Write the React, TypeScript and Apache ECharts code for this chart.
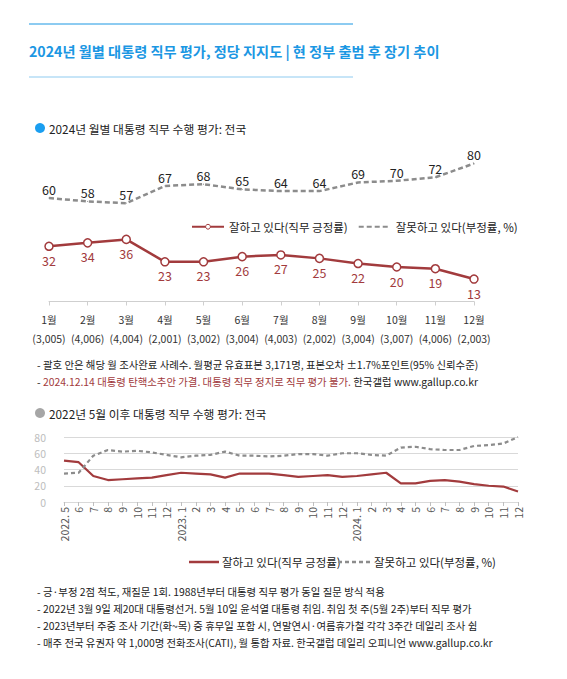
import React, { useEffect, useRef } from "react";
import * as echarts from "echarts";

// ---- Data ----
const months2024 = ["1월", "2월", "3월", "4월", "5월", "6월", "7월", "8월", "9월", "10월", "11월", "12월"];
const samples2024 = ["(3,005)", "(4,006)", "(4,004)", "(2,001)", "(3,002)", "(3,004)", "(4,003)", "(2,002)", "(3,004)", "(3,007)", "(4,006)", "(2,003)"];
const positive2024 = [32, 34, 36, 23, 23, 26, 27, 25, 22, 20, 19, 13];
const negative2024 = [60, 58, 57, 67, 68, 65, 64, 64, 69, 70, 72, 80];

const monthsLong = [
  "2022. 5", "6", "7", "8", "9", "10", "11", "12",
  "2023. 1", "2", "3", "4", "5", "6", "7", "8", "9", "10", "11", "12",
  "2024. 1", "2", "3", "4", "5", "6", "7", "8", "9", "10", "11", "12",
];
const positiveLong = [
  51, 49, 32, 27, 28, 29, 30, 33,
  36, 35, 34, 30, 35, 35, 35, 33, 31, 32, 33, 31,
  32, 34, 36, 23, 23, 26, 27, 25, 22, 20, 19, 13,
];
const negativeLong = [
  35, 36, 57, 64, 62, 63, 61, 58,
  55, 57, 58, 62, 57, 57, 56, 57, 59, 59, 57, 60,
  60, 58, 57, 67, 68, 65, 64, 64, 69, 70, 72, 80,
];
const yTicksLong = [0, 20, 40, 60, 80];

const posName = "잘하고 있다(직무 긍정률)";
const negName = "잘못하고 있다(부정률, %)";
const titleText = "2024년 월별 대통령 직무 평가, 정당 지지도 | 현 정부 출범 후 장기 추이";
const heading1 = "2024년 월별 대통령 직무 수행 평가: 전국";
const heading2 = "2022년 5월 이후 대통령 직무 수행 평가: 전국";
const note1 = "- 괄호 안은 해당 월 조사완료 사례수. 월평균 유효표본 3,171명, 표본오차 ±1.7%포인트(95% 신뢰수준)";
const note2Red = "2024.12.14 대통령 탄핵소추안 가결. 대통령 직무 정지로 직무 평가 불가.";
const note2Black = " 한국갤럽 www.gallup.co.kr";
const notesBottom = [
  "- 긍·부정 2점 척도, 재질문 1회. 1988년부터 대통령 직무 평가 동일 질문 방식 적용",
  "- 2022년 3월 9일 제20대 대통령선거. 5월 10일 윤석열 대통령 취임. 취임 첫 주(5월 2주)부터 직무 평가",
  "- 2023년부터 주중 조사 기간(화~목) 중 휴무일 포함 시, 연말연시·여름휴가철 각각 3주간 데일리 조사 쉼",
  "- 매주 전국 유권자 약 1,000명 전화조사(CATI), 월 통합 자료. 한국갤럽 데일리 오피니언 www.gallup.co.kr",
];

const RED = "#a23b3d";
const GRAY = "#8c8c8c";
const BLUE = "#1b97e3";
const KR = "'Noto Sans CJK KR', sans-serif";

export default function App() {
  const ref = useRef<HTMLDivElement>(null);
  useEffect(() => {
    if (!ref.current) return;
    const chart = echarts.init(ref.current, undefined, { renderer: "svg" });
    const noteY = [591, 608, 625, 642];
    const graphics: any[] = [
      { type: "line", shape: { x1: 29, y1: 24, x2: 353, y2: 24 }, style: { stroke: BLUE, lineWidth: 1 } },
      { type: "text", x: 29, y: 51, style: { text: titleText, fill: BLUE, font: `bold 14.2px ${KR}`, verticalAlign: "middle" } },
      { type: "line", shape: { x1: 29, y1: 77, x2: 353, y2: 77 }, style: { stroke: "#8fcbf0", lineWidth: 1 } },
      { type: "circle", shape: { cx: 40, cy: 128, r: 5 }, style: { fill: "#1a9ef0" } },
      { type: "text", x: 49, y: 128, style: { text: heading1, fill: "#222", font: `11.8px ${KR}`, verticalAlign: "middle" } },
      { type: "text", x: 37, y: 364, style: { text: note1, fill: "#222", font: `10.4px ${KR}`, verticalAlign: "middle" } },
      {
        type: "text", x: 37, y: 381,
        style: {
          text: `{b|- }{r|${note2Red}}{b|${note2Black}}`,
          verticalAlign: "middle",
          rich: {
            b: { fill: "#222", font: `10.4px ${KR}` },
            r: { fill: RED, font: `10.4px ${KR}` },
          },
        },
      },
      { type: "circle", shape: { cx: 40, cy: 413, r: 5 }, style: { fill: "#a6a6a6" } },
      { type: "text", x: 49, y: 413, style: { text: heading2, fill: "#222", font: `11.8px ${KR}`, verticalAlign: "middle" } },
      { type: "line", shape: { x1: 189, y1: 562, x2: 219, y2: 562 }, style: { stroke: RED, lineWidth: 2.5 } },
      { type: "text", x: 222, y: 562, style: { text: posName, fill: "#222", font: `11.5px ${KR}`, verticalAlign: "middle" } },
      { type: "line", shape: { x1: 338, y1: 562, x2: 372, y2: 562 }, style: { stroke: GRAY, lineWidth: 2.5, lineDash: [4, 3] } },
      { type: "text", x: 374, y: 562, style: { text: negName, fill: "#222", font: `11.5px ${KR}`, verticalAlign: "middle" } },
      ...notesBottom.map((t, i) => ({
        type: "text", x: 37, y: noteY[i],
        style: { text: t, fill: "#222", font: `10.4px ${KR}`, verticalAlign: "middle" },
      })),
    ];

    chart.setOption({
      animation: false,
      backgroundColor: "#fff",
      textStyle: { fontFamily: KR },
      grid: [
        { left: 49, width: 425, top: 129, height: 172.5, containLabel: false },
        { left: 64, width: 454, top: 437, height: 65, containLabel: false },
      ],
      legend: {
        left: 186, top: 216, itemWidth: 32, itemHeight: 6, itemGap: 10,
        data: [
          { name: posName, itemStyle: { borderWidth: 1 } },
          { name: negName, itemStyle: { opacity: 0 } },
        ],
        textStyle: { fontSize: 11.5, color: "#222", fontFamily: KR },
        selectedMode: false,
      },
      xAxis: [
        {
          type: "category", gridIndex: 0, data: months2024, boundaryGap: false,
          axisLine: { lineStyle: { color: "#cfcfcf" } },
          axisTick: { show: true, length: 4, lineStyle: { color: "#cfcfcf" } },
          axisLabel: {
            interval: 0, margin: 8, color: "#333", fontSize: 10.5, lineHeight: 19, fontFamily: KR,
            formatter: (v: string, i: number) => `${v}\n${samples2024[i]}`,
          },
        },
        {
          type: "category", gridIndex: 1, data: monthsLong, boundaryGap: false,
          axisLine: { show: true, lineStyle: { color: "#d9d9d9" } },
          axisTick: { show: true, length: 4, lineStyle: { color: "#bfbfbf" } },
          axisLabel: { interval: 0, rotate: 90, margin: 5, color: "#555", fontSize: 10.5, fontFamily: KR },
        },
      ],
      yAxis: [
        { type: "value", gridIndex: 0, min: 0, max: 100, show: false, splitLine: { show: false } },
        {
          type: "value", gridIndex: 1, min: yTicksLong[0], max: yTicksLong[yTicksLong.length - 1], interval: 20,
          axisLine: { show: false }, axisTick: { show: false },
          axisLabel: { color: "#bdbdbd", fontSize: 10.5, margin: 18, fontFamily: KR },
          splitLine: { lineStyle: { color: "#d9d9d9" } },
        },
      ],
      series: [
        {
          name: posName, type: "line", xAxisIndex: 0, yAxisIndex: 0, data: positive2024,
          symbol: "circle", symbolSize: 8,
          itemStyle: { color: "#fff", borderColor: RED, borderWidth: 1.5 },
          lineStyle: { color: RED, width: 2.5 },
          label: { show: true, position: "bottom", distance: 3, color: RED, fontSize: 12.5, fontFamily: KR },
          z: 3,
        },
        {
          name: negName, type: "line", xAxisIndex: 0, yAxisIndex: 0, data: negative2024,
          symbol: "circle", symbolSize: 1,
          itemStyle: { color: GRAY },
          lineStyle: { color: GRAY, width: 2.5, type: [5, 3] },
          label: { show: true, position: "top", distance: 2, color: "#222", fontSize: 12.5, fontFamily: KR },
        },
        {
          name: posName, type: "line", xAxisIndex: 1, yAxisIndex: 1, data: positiveLong,
          symbol: "none", lineStyle: { color: RED, width: 2.2 }, itemStyle: { color: RED }, z: 3,
        },
        {
          name: negName, type: "line", xAxisIndex: 1, yAxisIndex: 1, data: negativeLong,
          symbol: "none", lineStyle: { color: GRAY, width: 2.2, type: [4, 3] }, itemStyle: { color: GRAY },
        },
      ],
      graphic: graphics,
    });
    return () => chart.dispose();
  }, []);
  return (
    <div
      ref={ref}
      style={{ position: "absolute", left: 0, top: 0, width: 567, height: 679, background: "#fff" }}
    />
  );
}
